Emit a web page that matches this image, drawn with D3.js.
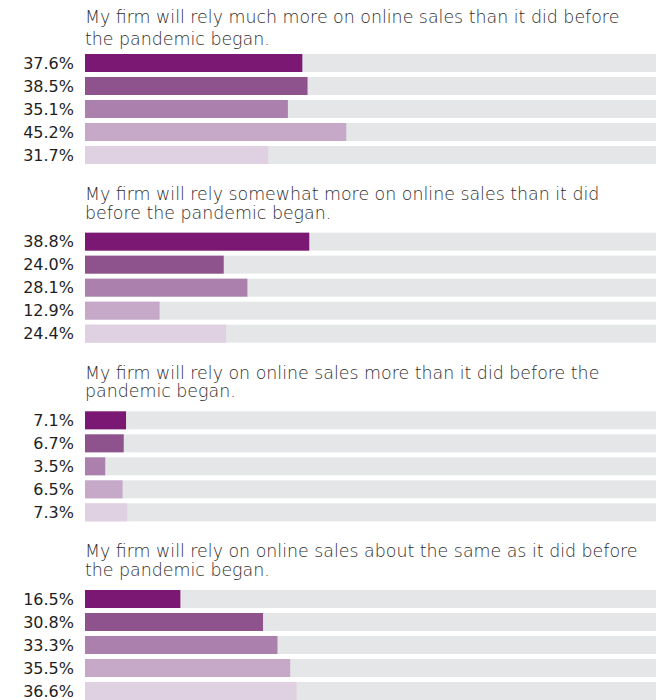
<!DOCTYPE html>
<html>
<head>
<meta charset="utf-8">
<script src="https://cdn.jsdelivr.net/npm/d3@7/dist/d3.min.js"></script>
<style>
  html, body { margin: 0; padding: 0; background: #fff; }
  svg { display: block; }
  .title { font-family: "DejaVu Sans", sans-serif; font-weight: 200; font-size: 17.4px; fill: #2e2e2e; }
  .val { font-family: "DejaVu Sans", sans-serif; font-size: 16px; fill: #1e1e1e; }
</style>
</head>
<body>
<svg id="chart" width="656" height="700"></svg>
<script>
// Survey statements, one panel each
const statements = [
  ["My firm will rely much more on online sales than it did before", "the pandemic began."],
  ["My firm will rely somewhat more on online sales than it did", "before the pandemic began."],
  ["My firm will rely on online sales more than it did before the", "pandemic began."],
  ["My firm will rely on online sales about the same as it did before", "the pandemic began."]
];

// Five respondent groups per statement (percent)
const seriesA = [37.6, 38.8, 7.1, 16.5];
const seriesB = [38.5, 24.0, 6.7, 30.8];
const seriesC = [35.1, 28.1, 3.5, 33.3];
const seriesD = [45.2, 12.9, 6.5, 35.5];
const seriesE = [31.7, 24.4, 7.3, 36.6];

const seriesColors = ["#7b1873", "#8e528c", "#ab80ad", "#c6a9c9", "#dfd0e2"];
const trackColor = "#e5e6e8";

const allSeries = [seriesA, seriesB, seriesC, seriesD, seriesE];

const svg = d3.select("#chart");
const x = d3.scaleLinear().domain([0, 100]).range([85, 663]);

// Vertical placement of each panel (first bar top) and the title baselines
const panelTop = d3.scaleLinear().domain([0, 3]).range([54, 590]);
const rowY = d3.scaleBand().domain(d3.range(5)).range([0, 110]).paddingInner(5 / 23).paddingOuter(0);
const titleLead = [[-31, -9], [-33, -14], [-32, -14], [-33, -14]];

statements.forEach((lines, gi) => {
  const g = svg.append("g").attr("transform", `translate(0,${panelTop(gi)})`);

  g.selectAll("text.title").data(lines).join("text")
    .attr("class", "title")
    .attr("x", x(0))
    .attr("y", (d, i) => titleLead[gi][i])
    .text(d => d);

  const rows = allSeries.map((s, si) => ({ v: s[gi], si }));

  g.selectAll("rect.track").data(rows).join("rect")
    .attr("class", "track")
    .attr("x", x(0))
    .attr("y", d => rowY(d.si))
    .attr("width", x(100) - x(0))
    .attr("height", rowY.bandwidth())
    .attr("fill", trackColor);

  g.selectAll("rect.bar").data(rows).join("rect")
    .attr("class", "bar")
    .attr("x", x(0))
    .attr("y", d => rowY(d.si))
    .attr("width", d => x(d.v) - x(0))
    .attr("height", rowY.bandwidth())
    .attr("fill", d => seriesColors[d.si]);

  g.selectAll("text.val").data(rows).join("text")
    .attr("class", "val")
    .attr("x", 74)
    .attr("y", d => rowY(d.si) + rowY.bandwidth() / 2)
    .attr("dy", "0.36em")
    .attr("text-anchor", "end")
    .text(d => d.v.toFixed(1) + "%");
});
</script>
</body>
</html>
